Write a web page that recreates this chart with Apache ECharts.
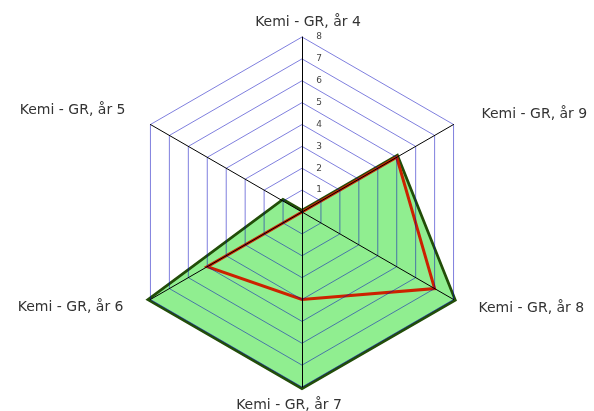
<!DOCTYPE html>
<html>
<head>
<meta charset="utf-8">
<script src="https://cdn.jsdelivr.net/npm/echarts@6/dist/echarts.min.js"></script>
<style>
  html, body { margin: 0; padding: 0; background: #fff; }
  #chart { width: 594px; height: 411px; }
</style>
</head>
<body>
<div id="chart"></div>
<script>
// Indicators, counter-clockwise from the top
const indicatorNames = [
  'Kemi - GR, år 4',
  'Kemi - GR, år 5',
  'Kemi - GR, år 6',
  'Kemi - GR, år 7',
  'Kemi - GR, år 8',
  'Kemi - GR, år 9'
];
const axisMax = 8;
const greenValues = [0, 1, 8, 8, 8, 5];
const redValues = [0, 0, 5, 4, 7, 5];

// Placement style of each indicator name
const nameStyleKeys = ['t', 'ul', 'll', 'b', 'lr', 'ur'];

const font = { fontFamily: 'DejaVu Sans', fontSize: 14, color: '#333' };

const chart = echarts.init(document.getElementById('chart'), null, { renderer: 'canvas' });

chart.setOption({
  animation: false,
  backgroundColor: '#fff',
  radar: {
    center: [302, 212],
    radius: 175,
    startAngle: 90,
    shape: 'polygon',
    splitNumber: axisMax,
    nameGap: 8,
    indicator: indicatorNames.map((name, i) => {
      const ind = { name: name, max: axisMax, min: 0 };
      // scale numbers only along the top axis
      if (i === 0) ind.axisLabel = { show: true };
      return ind;
    }),
    axisName: {
      ...font,
      formatter: (name) => '{' + nameStyleKeys[indicatorNames.indexOf(name)] + '|' + name + '}',
      rich: {
        t:  { ...font, padding: [0, 0, 0, 12] },
        b:  { ...font, padding: [3, 26, 0, 0] },
        ul: { ...font, padding: [0, 18, 20, 0] },
        ll: { ...font, padding: [8, 20, 0, 0] },
        ur: { ...font, padding: [0, 0, 12, 21] },
        lr: { ...font, padding: [10, 0, 0, 18] }
      }
    },
    axisLine: { lineStyle: { color: '#000', width: 1 } },
    splitLine: { lineStyle: { color: 'rgba(0, 0, 190, 0.5)', width: 1 } },
    splitArea: { show: false },
    axisTick: { show: false },
    axisLabel: {
      show: false,
      fontFamily: 'DejaVu Sans',
      fontSize: 9,
      color: '#444',
      margin: -20,
      formatter: (v) => (v === 0 ? '' : String(v))
    },
    z: 3
  },
  series: [
    {
      type: 'radar',
      z: 1,
      symbol: 'none',
      lineStyle: { color: '#224d08', width: 5.5, join: 'miter' },
      areaStyle: { color: '#90ee90', opacity: 1 },
      data: [{ value: greenValues }]
    },
    {
      type: 'radar',
      z: 2,
      symbol: 'none',
      lineStyle: { color: '#cc2200', width: 3, join: 'miter' },
      data: [{ value: redValues }]
    }
  ]
});
</script>
</body>
</html>
